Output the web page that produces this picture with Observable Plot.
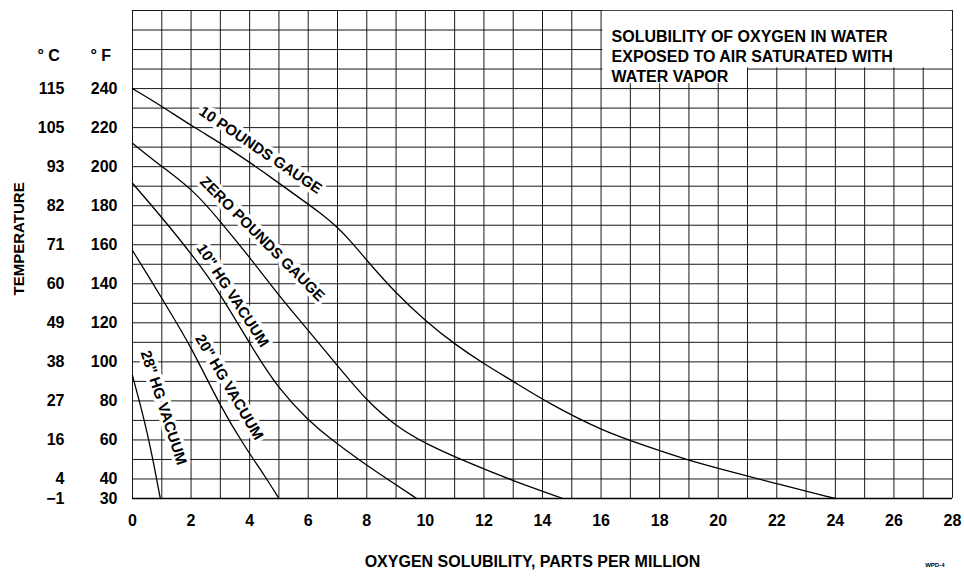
<!DOCTYPE html>
<html>
<head>
<meta charset="utf-8">
<script src="https://cdn.jsdelivr.net/npm/d3@7"></script>
<script src="https://cdn.jsdelivr.net/npm/@observablehq/plot@0.6"></script>
<style>
  html, body { margin: 0; padding: 0; background: #fff; overflow: hidden; }
  svg { display: block; font-family: "Liberation Sans", Arial, sans-serif; }
</style>
</head>
<body>
<div id="chart"></div>
<script>
// ---- Data (ppm O2, temperature °F) ----
const tenPoundsGauge = [[0,240],[1,231],[2,221],[3.35,209],[4.5,197],[5.7,184],[6.4,176.5],[7,169],[7.5,161],[8,152],[9,135],[10,121],[11,109],[12,99],[13,90],[14.3,78],[16,65],[17.5,57],[19,49.5],[20,45.5],[22,37.5],[24,30]];
const zeroPoundsGauge = [[0,212],[1,200],[2.08,188],[3,172],[4.03,153],[5,134],[5.73,121],[7,98],[8,80],[9,67],[10,58],[11.6,47.5],[13,39],[14.7,30]];
const hg10Vacuum = [[0,191.5],[1.06,173],[2.08,154],[3,135],[4.13,106],[5,86],[6,70],[6.8,60],[7.9,48],[8.9,38],[9.7,30]];
const hg20Vacuum = [[0,157],[0.5,145],[1.06,131],[2,108],[3,77],[3.9,55],[4.5,42],[5,30]];
const hg28Vacuum = [[0,93],[0.25,79],[0.5,64],[0.75,46],[0.95,30]];

const curveNames = ["10 POUNDS GAUGE", "ZERO POUNDS GAUGE", "10\" HG VACUUM", "20\" HG VACUUM", "28\" HG VACUUM"];
const curveData = [tenPoundsGauge, zeroPoundsGauge, hg10Vacuum, hg20Vacuum, hg28Vacuum];

// label anchor (ppm, °F) and rotation per curve
const labelX = [4.37, 4.43, 3.42, 3.3, 1.06];
const labelT = [208.5, 163, 134, 87, 76.5];
const labelAngle = [34, 45, 57, 59.5, 72];

// ticks
const xTicks = [0,2,4,6,8,10,12,14,16,18,20,22,24,26,28];
const fTicks = [30,40,60,80,100,120,140,160,180,200,220,240];
const cLabels = ["\u22121","4","16","27","38","49","60","71","82","93","105","115"];
const xGrid = d3.range(0, 29, 1);
const yGrid = d3.range(30, 281, 10);

const titleText = "SOLUBILITY OF OXYGEN IN WATER\nEXPOSED TO AIR SATURATED WITH\nWATER VAPOR";
const xLabel = "OXYGEN SOLUBILITY, PARTS PER MILLION";
const yLabel = "TEMPERATURE";

const lines = curveData.flatMap((arr, i) => arr.map(([x, t]) => ({curve: curveNames[i], x, t})));
const labels = curveNames.map((name, i) => ({name, x: labelX[i], t: labelT[i], a: labelAngle[i]}));
const fRows = fTicks.map((f, i) => ({f, c: cLabels[i]}));

const chart = Plot.plot({
  width: 964,
  height: 581,
  marginLeft: 132,
  marginRight: 12,
  marginTop: 10,
  marginBottom: 83,
  x: {domain: [0, 28], axis: null},
  y: {domain: [30, 280], axis: null},
  style: {fontFamily: "'Liberation Sans', Arial, sans-serif", background: "#fff"},
  marks: [
    Plot.ruleX(xGrid, {stroke: "#1a1a1a", strokeWidth: 1}),
    Plot.ruleY(yGrid, {stroke: "#1a1a1a", strokeWidth: 1}),
    Plot.ruleY([30], {stroke: "#000", strokeWidth: 1.6}),
    // title box
    Plot.rect([{x1: 16.06, x2: 27.97, y1: 250.6, y2: 279.6}], {x1: "x1", x2: "x2", y1: "y1", y2: "y2", fill: "#fff"}),
    Plot.rect([{x1: 16.06, x2: 21, y1: 242.5, y2: 251}], {x1: "x1", x2: "x2", y1: "y1", y2: "y2", fill: "#fff"}),
    Plot.text([titleText], {x: 16.36, y: 271, text: d => d, textAnchor: "start", lineAnchor: "top", lineHeight: 1.25, fontSize: 16, fontWeight: "bold", fill: "#000"}),
    // curve labels with white halo that breaks the grid
    Plot.text(labels, {x: "x", y: "t", text: "name", rotate: "a", fontSize: 15, fontWeight: "bold", fill: "#000", stroke: "#fff", strokeWidth: 7, paintOrder: "stroke"}),
    // curves
    Plot.line(lines, {x: "x", y: "t", z: "curve", curve: "basis", stroke: "#000", strokeWidth: 1.3}),
    // y tick labels (°F and °C)
    Plot.text(fRows, {y: "f", text: d => String(d.f), frameAnchor: "left", dx: -15, textAnchor: "end", fontSize: 16, fontWeight: "bold", fill: "#000"}),
    Plot.text(fRows, {y: "f", text: "c", frameAnchor: "left", dx: -68, textAnchor: "end", fontSize: 16, fontWeight: "bold", fill: "#000"}),
    Plot.text(["\u00B0 C"], {frameAnchor: "top-left", dx: -95, dy: 39, text: d => d, textAnchor: "start", fontSize: 16, fontWeight: "bold", fill: "#000"}),
    Plot.text(["\u00B0 F"], {frameAnchor: "top-left", dx: -42, dy: 39, text: d => d, textAnchor: "start", fontSize: 16, fontWeight: "bold", fill: "#000"}),
    Plot.text([yLabel], {x: -3.88, y: 163, rotate: -90, text: d => d, fontSize: 15, fontWeight: "bold", fill: "#000"}),
    // x tick labels
    Plot.text(xTicks, {x: d => d, text: d => String(d), frameAnchor: "bottom", dy: 27, fontSize: 16, fontWeight: "bold", fill: "#000"}),
    Plot.text([xLabel], {frameAnchor: "bottom", dx: -10, dy: 68, text: d => d, fontSize: 16, fontWeight: "bold", fill: "#000"}),
    Plot.text(["WPD-4"], {frameAnchor: "bottom-right", dx: -8, dy: 68, text: d => d, fontSize: 6, fontWeight: "bold", fill: "#000"})
  ]
});
document.getElementById("chart").appendChild(chart);
</script>
</body>
</html>
